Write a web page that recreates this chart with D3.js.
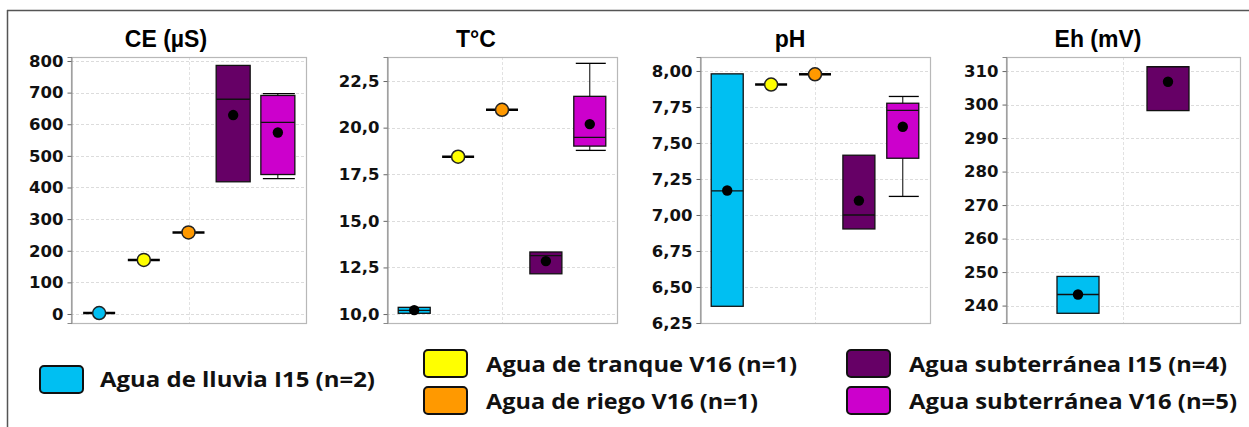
<!DOCTYPE html>
<html><head><meta charset="utf-8">
<script src="https://cdn.jsdelivr.net/npm/d3@7"></script>
<style>body{margin:0;background:#fff}svg{display:block}</style>
</head><body>
<svg id="c" width="1249" height="427"></svg>
<script>
// ---------- data ----------
const categories = ["Agua de lluvia I15 (n=2)", "Agua de tranque V16 (n=1)", "Agua de riego V16 (n=1)", "Agua subterránea I15 (n=4)", "Agua subterránea V16 (n=5)"];
const seriesColors = ["#00BFF2", "#FFFF00", "#FF9900", "#660066", "#CC00CC"];
const panelTitles = ["CE (µS)", "T°C", "pH", "Eh (mV)"];

const ceTicks = [0, 100, 200, 300, 400, 500, 600, 700, 800];
const tTicks = [10, 12.5, 15, 17.5, 20, 22.5];
const phTicks = [6.25, 6.5, 6.75, 7, 7.25, 7.5, 7.75, 8];
const ehTicks = [240, 250, 260, 270, 280, 290, 300, 310];

const ceData = [
  {cat: 0, value: 3},
  {cat: 1, value: 171},
  {cat: 2, value: 258},
  {cat: 3, q1: 418, median: 679, q3: 786, mean: 629},
  {cat: 4, low: 428, q1: 441, median: 606, q3: 691, high: 697, mean: 574}
];
const tData = [
  {cat: 0, q1: 10.04, median: 10.2, q3: 10.36, mean: 10.21},
  {cat: 1, value: 18.44},
  {cat: 2, value: 20.96},
  {cat: 3, q1: 12.16, median: 13.13, q3: 13.33, mean: 12.84},
  {cat: 4, low: 18.78, q1: 19.01, median: 19.48, q3: 21.68, high: 23.45, mean: 20.19}
];
const phData = [
  {cat: 0, q1: 6.366, median: 7.168, q3: 7.98, mean: 7.17},
  {cat: 1, value: 7.906},
  {cat: 2, value: 7.977},
  {cat: 3, q1: 6.903, median: 7.0, q3: 7.415, mean: 7.10},
  {cat: 4, low: 7.129, q1: 7.394, median: 7.726, q3: 7.776, high: 7.823, mean: 7.613}
];
const ehData = [
  {cat: 0, q1: 237.7, median: 243.3, q3: 248.7, mean: 243.3},
  {cat: 3, q1: 298.2, median: 311.3, q3: 311.3, mean: 306.8}
];

// ---------- layout ----------
const svg = d3.select("#c");
const W = 1249, H = 427;

svg.append("line").attr("x1", 7).attr("x2", W).attr("y1", 10.5).attr("y2", 10.5).attr("stroke", "#555").attr("stroke-width", 1.5);
svg.append("line").attr("x1", 7.5).attr("x2", 7.5).attr("y1", 10).attr("y2", H).attr("stroke", "#555").attr("stroke-width", 1.5);

const commaFmt = d => d.toString().replace(".", ",");
const panels = [
  {title: panelTitles[0], data: ceData, ticks: ceTicks, x0: 71, x1: 306, dom: [-28.5, 812.6], cats: [0,1,2,3,4], pad: 0.63, bw: 34, fmt: d3.format("d"), titleX: 166},
  {title: panelTitles[1], data: tData, ticks: tTicks, x0: 387, x1: 617, dom: [9.52, 23.79], cats: [0,1,2,3,4], pad: 0.62, bw: 32, fmt: d => commaFmt(d3.format(".1f")(d)), titleX: 476},
  {title: panelTitles[2], data: phData, ticks: phTicks, x0: 700, x1: 930, dom: [6.25, 8.097], cats: [0,1,2,3,4], pad: 0.62, bw: 32, fmt: d => commaFmt(d3.format(".2f")(d)), titleX: 790},
  {title: panelTitles[3], data: ehData, ticks: ehTicks, x0: 1006, x1: 1240, dom: [234.8, 314.2], cats: [0,3], pad: 0.8, bw: 42, fmt: d3.format("d"), titleX: 1098}
];
const yTop = 57, yBot = 323;

panels.forEach(p => {
  const g = svg.append("g");
  const x = d3.scalePoint().domain(p.cats).range([p.x0, p.x1]).padding(p.pad);
  const y = d3.scaleLinear().domain(p.dom).range([yBot, yTop]);

  g.selectAll(".hg").data(p.ticks).join("line")
    .attr("x1", p.x0).attr("x2", p.x1)
    .attr("y1", d => Math.round(y(d)) + 0.5).attr("y2", d => Math.round(y(d)) + 0.5)
    .attr("stroke", "#dcdcdc").attr("stroke-dasharray", "3,2").attr("stroke-width", 1);
  const cx = Math.round((p.x0 + p.x1) / 2) + 0.5;
  g.append("line").attr("x1", cx).attr("x2", cx).attr("y1", yTop).attr("y2", yBot)
    .attr("stroke", "#e2e2e2").attr("stroke-dasharray", "3,2");

  g.append("rect").attr("x", p.x0 + 0.5).attr("y", yTop + 0.5).attr("width", p.x1 - p.x0).attr("height", yBot - yTop)
    .attr("fill", "none").attr("stroke", "#b8b8b8").attr("stroke-width", 1.2);

  const ax = g.append("g").attr("transform", `translate(${p.x0 + 0.5},0)`)
    .call(d3.axisLeft(y).tickValues(p.ticks).tickFormat(p.fmt).tickSize(4).tickPadding(4));
  ax.select(".domain").attr("stroke", "#888");
  ax.selectAll(".tick line").attr("stroke", "#666");
  ax.selectAll("text").attr("font-family", "DejaVu Sans").attr("font-weight", "bold")
    .attr("font-size", 16.5).attr("fill", "#111");

  g.append("text").attr("x", p.titleX).attr("y", 47).attr("text-anchor", "middle")
    .attr("font-family", "Liberation Sans, Arial").attr("font-weight", "bold").attr("font-size", 23)
    .attr("fill", "#000").text(p.title);

  p.data.forEach(d => {
    const xc = x(d.cat);
    const col = seriesColors[d.cat];
    if (d.value !== undefined) {
      g.append("line").attr("x1", xc - 16).attr("x2", xc + 16).attr("y1", y(d.value)).attr("y2", y(d.value))
        .attr("stroke", "#000").attr("stroke-width", 2.5);
      g.append("circle").attr("cx", xc).attr("cy", y(d.value)).attr("r", 6.5)
        .attr("fill", col).attr("stroke", "#222").attr("stroke-width", 1.5);
      return;
    }
    const hw = p.bw / 2;
    if (d.low !== undefined) {
      g.append("line").attr("x1", xc).attr("x2", xc).attr("y1", y(d.low)).attr("y2", y(d.high)).attr("stroke", "#000");
      [d.low, d.high].forEach(v => g.append("line").attr("x1", xc - hw + 2).attr("x2", xc + hw).attr("y1", y(v)).attr("y2", y(v)).attr("stroke", "#000").attr("stroke-width", 1.3));
    }
    g.append("rect").attr("x", xc - hw).attr("y", y(d.q3)).attr("width", p.bw).attr("height", y(d.q1) - y(d.q3))
      .attr("fill", col).attr("stroke", "#111").attr("stroke-width", 1.3);
    g.append("line").attr("x1", xc - hw).attr("x2", xc + hw).attr("y1", y(d.median)).attr("y2", y(d.median))
      .attr("stroke", "#111").attr("stroke-width", 1.3);
    g.append("circle").attr("cx", xc).attr("cy", y(d.mean)).attr("r", 5.2).attr("fill", "#000");
  });
});

// ---------- legend ----------
const legendItems = [
  {i: 0, sx: 40, sy: 366, tx: 100, ty: 387, tl: 275},
  {i: 1, sx: 424, sy: 350, tx: 486, ty: 372, tl: 311},
  {i: 2, sx: 424, sy: 387, tx: 486, ty: 409, tl: 272},
  {i: 3, sx: 847, sy: 350, tx: 909, ty: 372, tl: 318},
  {i: 4, sx: 847, sy: 387, tx: 909, ty: 409, tl: 328}
];
const lg = svg.append("g");
legendItems.forEach(l => {
  lg.append("rect").attr("x", l.sx).attr("y", l.sy).attr("width", 43).attr("height", 27).attr("rx", 4)
    .attr("fill", seriesColors[l.i]).attr("stroke", "#111").attr("stroke-width", 2);
  lg.append("text").attr("x", l.tx).attr("y", l.ty)
    .attr("font-family", "Open Sans, Lato, sans-serif").attr("font-weight", "bold").attr("font-size", 22)
    .attr("fill", "#111").attr("textLength", l.tl).attr("lengthAdjust", "spacingAndGlyphs")
    .text(categories[l.i]);
});
</script>
</body></html>
